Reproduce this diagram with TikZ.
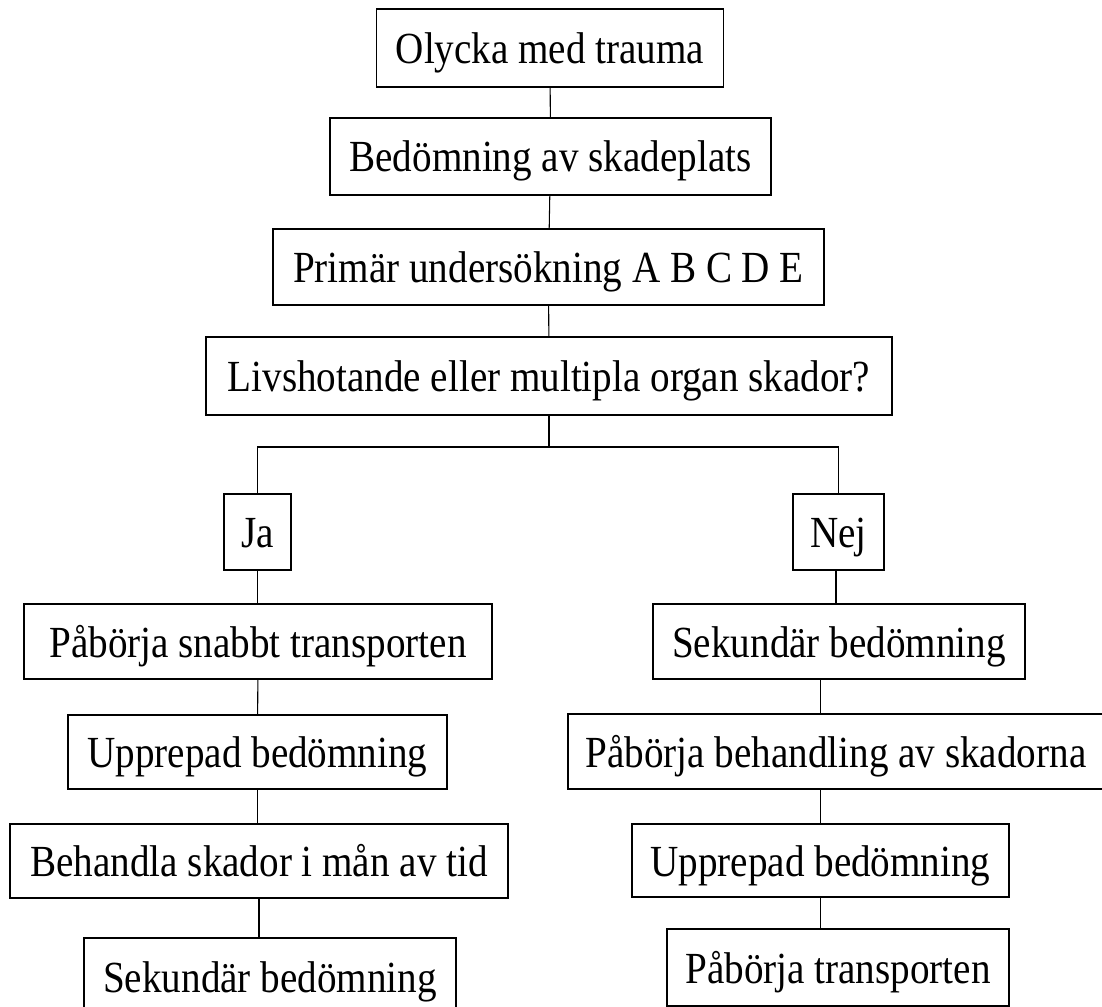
\documentclass[tikz,border=0pt]{standalone}
\usepackage{fontspec}
\setmainfont{Liberation Serif}[FakeStretch=0.88]

\tikzset{
  box/.style={draw, line width=0.9pt, inner sep=0pt, text height=0.62cm, text depth=0cm,
    font=\fontsize{25.3}{30}\selectfont},
  conn/.style={draw, line width=0.6pt}
}

\begin{document}
\begin{tikzpicture}[x=0.02cm, y=-0.02cm]

\useasboundingbox (0,0) rectangle (1102,1007);

\node[box, minimum width=6.94cm, minimum height=1.56cm] (olycka) at (550,48) {Olycka med trauma};
\node[box, minimum width=8.82cm, minimum height=1.54cm] (plats) at (550.5,156.5) {Bedömning av skadeplats};
\node[box, minimum width=11.02cm, minimum height=1.52cm] (primar) at (548.5,267) {Primär undersökning A B C D E};
\node[box, minimum width=13.72cm, minimum height=1.56cm] (livs) at (549,376) {Livshotande eller multipla organ skador?};
\coordinate (fork) at (549,447);

\node[box, minimum width=1.34cm, minimum height=1.52cm] (ja) at (257.5,532) {Ja};
\node[box, minimum width=1.82cm, minimum height=1.52cm] (nej) at (838.5,532) {Nej};

\node[box, minimum width=9.36cm, minimum height=1.50cm] (transpJa) at (258,641.5) {Påbörja snabbt transporten};
\node[box, minimum width=7.58cm, minimum height=1.48cm] (upprepJa) at (257.5,752) {Upprepad bedömning};
\node[box, minimum width=9.96cm, minimum height=1.48cm] (behJa) at (259,861) {Behandla skador i mån av tid};
\node[box, minimum width=7.44cm, minimum height=1.54cm] (sekJa) at (270,976.5) {Sekundär bedömning};

\node[box, minimum width=7.44cm, minimum height=1.50cm] (sekNej) at (839,641.5) {Sekundär bedömning};
\node[box, minimum width=10.72cm, minimum height=1.50cm] (behNej) at (836,751.5) {Påbörja behandling av skadorna};
\node[box, minimum width=7.54cm, minimum height=1.46cm] (upprepNej) at (820.5,860.5) {Upprepad bedömning};
\node[box, minimum width=6.84cm, minimum height=1.54cm] (transpNej) at (838,967.5) {Påbörja transporten};

\draw[conn] (olycka) -- (plats);
\draw[conn] (plats) -- (primar);
\draw[conn] (primar) -- (livs);
\draw[conn] (livs) -- (fork);
\draw[conn] (ja.north) |- (fork) -| (nej.north);

\draw[conn] (ja) -- (ja.south |- transpJa.north);
\draw[conn] (transpJa) -- (upprepJa);
\draw[conn] (upprepJa) -- (upprepJa.south |- behJa.north);
\draw[conn] (behJa) -- (behJa.south |- sekJa.north);

\draw[conn] (behNej.north |- nej.south) -- (behNej.north |- sekNej.north);
\draw[conn] (upprepNej.north |- sekNej.south) -- (upprepNej.north |- behNej.north);
\draw[conn] (upprepNej.north |- behNej.south) -- (upprepNej.north);
\draw[conn] (upprepNej) -- (upprepNej.south |- transpNej.north);

\end{tikzpicture}
\end{document}
